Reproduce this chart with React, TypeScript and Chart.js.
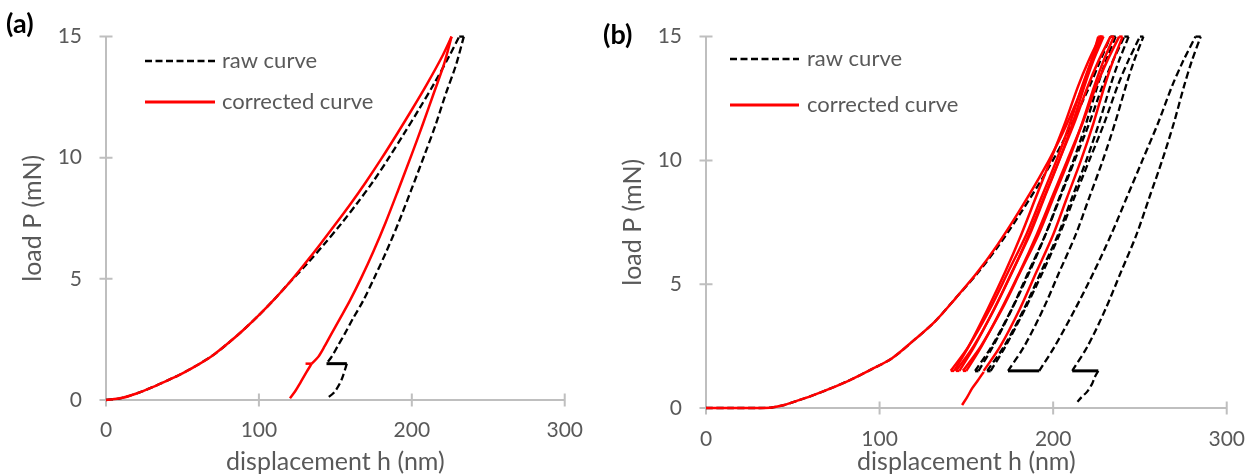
import { useEffect, useRef } from "react";
import { Chart, registerables } from "chart.js";

Chart.register(...registerables);

type Pt = [number, number];

const X_TICKS = [0, 100, 200, 300];
const Y_TICKS = [0, 5, 10, 15];
const X_TITLE = "displacement h (nm)";
const Y_TITLE = "load P (mN)";
const LEGEND_RAW = "raw curve";
const LEGEND_CORR = "corrected curve";
const PANEL_LABELS = ["(a)", "(b)"];

// ---------- panel (a) ----------
const aCorrLoad: Pt[] = [[0, 0], [10, 0.08], [20, 0.27], [30, 0.52], [40, 0.8], [50, 1.1], [60, 1.45], [70, 1.85], [80, 2.35], [90, 2.9], [100, 3.5], [110, 4.15], [120, 4.85], [130, 5.62], [140, 6.42], [150, 7.25], [160, 8.1], [170, 9.0], [180, 9.95], [190, 10.95], [200, 11.98], [210, 13.05], [220, 14.2], [226, 15]];
const aCorrUnload: Pt[] = [[226, 15], [221, 13.85], [214, 12.6], [207, 11.35], [200, 10.15], [191, 8.65], [183, 7.35], [175, 6.15], [167, 5.05], [159.5, 4.1], [153, 3.36], [147.5, 2.74], [143, 2.22], [138.8, 1.78], [134.5, 1.5]];
const aCorrHold: Pt[] = [[134.5, 1.5], [130.5, 1.5]];
const aCorrFinal: Pt[] = [[134.5, 1.5], [131.2, 1.16], [126.8, 0.68], [123.5, 0.34], [120.3, 0.07]];

const aRawLoad: Pt[] = [[0, 0], [10, 0.08], [20, 0.27], [30, 0.52], [40, 0.8], [50, 1.1], [60, 1.45], [70, 1.85], [80, 2.35], [90, 2.9], [100, 3.5], [110, 4.15], [120, 4.85], [131.5, 5.62], [142.5, 6.42], [153.5, 7.25], [164, 8.1], [174.5, 9.0], [184.5, 9.95], [194.5, 10.95], [204.5, 11.98], [214.5, 13.05], [224.5, 14.2], [231, 15]];
const aRawTop: Pt[] = [[231, 15], [234, 15]];
const aRawUnload: Pt[] = [[234, 15], [229, 13.85], [222, 12.6], [215.5, 11.35], [208.5, 10.15], [199.5, 8.65], [191.5, 7.35], [183.5, 6.15], [175.5, 5.05], [168.2, 4.1], [161.5, 3.36], [156.2, 2.74], [151.5, 2.22], [147.5, 1.78], [144.2, 1.5]];
const aRawHold: Pt[] = [[144.2, 1.5], [157.5, 1.5]];
const aRawFinal: Pt[] = [[157.5, 1.5], [155, 1.0], [152.9, 0.68], [149, 0.3], [144, 0.05]];

// ---------- panel (b) ----------
const bCorrLoad: Pt[] = [[0, 0], [15, 0], [30, 0], [38, 0.02], [45, 0.12], [52, 0.28], [60, 0.47], [70, 0.74], [83, 1.13], [95, 1.55], [107, 2.0], [120, 2.75], [132, 3.5], [144, 4.45], [156, 5.45], [168, 6.6], [180, 7.9], [192, 9.3], [202, 10.6], [210, 11.8], [217, 13.0], [222, 14.0], [226, 15]];
const bRawLoad: Pt[] = [[0, 0], [15, 0], [30, 0], [38, 0.02], [45, 0.12], [52, 0.28], [60, 0.47], [70, 0.74], [83, 1.13], [95, 1.55], [107, 2.0], [120, 2.75], [132, 3.5], [144, 4.45], [156.5, 5.45], [169, 6.6], [181.5, 7.9], [194, 9.3], [204.5, 10.6], [213, 11.8], [221, 13.0], [227, 14.0], [233, 15]];

// load levels (mN) at which the cycle branches below were read
const bCycleP = [1.5, 2.5, 4, 5.5, 7, 8.5, 10, 11.5, 13, 14, 15];
// corrected (red) branches: h (nm) at each level of bCycleP
const bCorrUnload1 = [141, 151.4, 163.6, 174.1, 184.5, 193.2, 201.9, 209.7, 216.7, 221.9, 228];
const bCorrReload2 = [143, 151.4, 162.3, 172.4, 181.6, 190, 198.4, 206.8, 214.4, 220.3, 227];
const bCorrUnload2 = [144, 154.2, 166.1, 176.3, 186.5, 195, 203.5, 211.2, 218, 223, 229];
const bCorrReload3 = [146, 154.7, 166, 176.5, 186, 194.7, 203.4, 212.1, 220, 226, 233];
const bCorrUnload3 = [148, 158.4, 170.6, 181.1, 191.5, 200.2, 208.9, 216.7, 223.7, 228.9, 235];
const bCorrReload4 = [150, 158.8, 170.2, 180.8, 190.5, 199.3, 208.1, 216.9, 224.8, 231, 238];
const bCorrUnload4 = [160, 169.6, 180.8, 190.4, 200, 208, 216, 223.2, 229.6, 234.4, 240];
const bCorrHoldTop: Pt[] = [[226, 228], [227, 229], [233, 235], [238, 240]];
const bCorrHoldBottom: Pt[] = [[141, 143], [144, 146], [148, 150]];
const bCorrFinal: Pt[] = [[160, 1.46], [156.5, 1.1], [153.3, 0.79], [150.3, 0.42], [147.5, 0.12]];

// raw (black) branches: h (nm) at each level of bCycleP
const bRawUnload1 = [155, 164.7, 176.1, 185.8, 195.5, 203.6, 211.7, 219, 225.5, 230.3, 236];
const bRawReload2 = [157, 165.4, 176.3, 186.4, 195.6, 204, 212.4, 220.8, 228.4, 234.3, 241];
const bRawUnload2 = [162, 171.8, 183.2, 193, 202.8, 210.9, 219.1, 226.4, 232.9, 237.8, 243.5];
const bRawReload3 = [164, 172.6, 183.8, 194.1, 203.6, 212.2, 220.8, 229.4, 237.1, 243.1, 250];
const bRawUnload3 = [174, 183.4, 194.3, 203.6, 213, 220.8, 228.6, 235.6, 241.9, 246.5, 252];
const bRawReload4 = [192, 201, 212.7, 223.5, 233.4, 242.4, 251.4, 260.4, 268.5, 274.8, 282];
const bRawUnload4 = [211, 219.9, 230.2, 239.1, 248, 255.4, 262.8, 269.5, 275.4, 279.8, 285];
const bRawHoldTop: Pt[] = [[233, 236], [241, 243.5], [250, 252], [282, 285]];
const bRawHoldBottom: Pt[] = [[155, 157], [162, 164], [174, 192], [211, 226]];
const bRawFinal: Pt[] = [[226, 1.5], [224, 1.25], [222.6, 1.0], [219.5, 0.65], [216.5, 0.45], [214, 0.25]];

// ---------- styling helpers ----------
const RED = "#ff0000";
const BLACK = "#000000";
const GRAY_AXIS = "#bfbfbf";
const GRAY_TEXT = "#595959";
const FONT = "Lato";

const toXY = (pts: Pt[]) => pts.map(([x, y]) => ({ x, y }));
const branch = (hs: number[]): Pt[] => hs.map((h, i) => [h, bCycleP[i]] as Pt);
const level = (pair: Pt, p: number): Pt[] => [[pair[0], p], [pair[1], p]];

const base = { showLine: true, pointRadius: 0, pointHoverRadius: 0, fill: false, clip: false as const };
const redDs = (pts: Pt[]) => ({ ...base, data: toXY(pts), borderColor: RED, borderWidth: 2.5, tension: 0.3 });
const dashDs = (pts: Pt[]) => ({ ...base, data: toXY(pts), borderColor: BLACK, borderWidth: 2.3, borderDash: [7, 3.5], tension: 0.3 });
const holdDs = (pts: Pt[]) => ({ ...base, data: toXY(pts), borderColor: BLACK, borderWidth: 3, tension: 0 });

const datasetsA = [
  redDs(aCorrLoad), redDs(aCorrUnload), redDs(aCorrHold), redDs(aCorrFinal),
  dashDs(aRawLoad), dashDs(aRawTop), dashDs(aRawUnload), holdDs(aRawHold), dashDs(aRawFinal),
];

const datasetsB = [
  redDs(bCorrLoad),
  ...[bCorrUnload1, bCorrReload2, bCorrUnload2, bCorrReload3, bCorrUnload3, bCorrReload4, bCorrUnload4].map((b) => redDs(branch(b))),
  ...bCorrHoldTop.map((p) => redDs(level(p, 15))),
  ...bCorrHoldBottom.map((p) => redDs(level(p, 1.5))),
  redDs(bCorrFinal),
  dashDs(bRawLoad),
  ...[bRawUnload1, bRawReload2, bRawUnload2, bRawReload3, bRawUnload3, bRawReload4, bRawUnload4].map((b) => dashDs(branch(b))),
  ...bRawHoldTop.map((p) => dashDs(level(p, 15))),
  ...bRawHoldBottom.map((p) => holdDs(level(p, 1.5))),
  dashDs(bRawFinal),
];

// ---------- plugins ----------
const crossTicks = {
  id: "crossTicks",
  beforeDatasetsDraw(chart: any) {
    const { ctx } = chart;
    const xs = chart.scales.x;
    const ys = chart.scales.y;
    const y0 = ys.getPixelForValue(0);
    const x0 = xs.getPixelForValue(0);
    ctx.save();
    ctx.strokeStyle = GRAY_AXIS;
    ctx.lineWidth = 2;
    ctx.beginPath();
    for (const v of X_TICKS) {
      const px = xs.getPixelForValue(v);
      ctx.moveTo(px, y0 - 6.5);
      ctx.lineTo(px, y0 + 6.5);
    }
    for (const v of Y_TICKS) {
      const py = ys.getPixelForValue(v);
      ctx.moveTo(x0 - 6.5, py);
      ctx.lineTo(x0 + 6.5, py);
    }
    ctx.stroke();
    ctx.restore();
  },
};

const deco = {
  id: "deco",
  afterDraw(chart: any, _args: any, o: any) {
    const { ctx } = chart;
    ctx.save();
    ctx.textAlign = "left";
    ctx.textBaseline = "middle";
    ctx.fillStyle = BLACK;
    ctx.font = `bold 27px ${FONT}`;
    ctx.fillText(o.label, o.labelX, o.labelY);

    ctx.strokeStyle = BLACK;
    ctx.lineWidth = 2.5;
    ctx.setLineDash([7, 3.5]);
    ctx.beginPath();
    ctx.moveTo(o.lx1, o.rawY);
    ctx.lineTo(o.lx2, o.rawY);
    ctx.stroke();
    ctx.setLineDash([]);
    ctx.strokeStyle = RED;
    ctx.lineWidth = 3;
    ctx.beginPath();
    ctx.moveTo(o.lx1, o.corrY);
    ctx.lineTo(o.lx2, o.corrY);
    ctx.stroke();

    ctx.fillStyle = GRAY_TEXT;
    ctx.font = `22px ${FONT}`;
    ctx.fillText(LEGEND_RAW, o.tx, o.rawY);
    ctx.fillText(LEGEND_CORR, o.tx, o.corrY);
    ctx.restore();
  },
};

type PanelCfg = {
  width: number;
  left: number;
  datasets: any[];
  padTop: number;
  padRight: number;
  xAxisH: number;
  tickPadX: number;
  deco: any;
};

function Panel({ cfg }: { cfg: PanelCfg }) {
  const ref = useRef<HTMLCanvasElement>(null);
  useEffect(() => {
    if (!ref.current) return;
    const chart = new Chart(ref.current, {
      type: "scatter",
      data: { datasets: cfg.datasets as any },
      plugins: [crossTicks, deco],
      options: {
        animation: false,
        responsive: false,
        devicePixelRatio: 1,
        events: [],
        layout: { padding: { left: 0, right: cfg.padRight, top: cfg.padTop, bottom: 0 } },
        plugins: {
          legend: { display: false },
          tooltip: { enabled: false },
          deco: cfg.deco,
        } as any,
        scales: {
          x: {
            type: "linear",
            min: 0,
            max: 300,
            afterBuildTicks: (s: any) => {
              s.ticks = X_TICKS.map((v) => ({ value: v }));
            },
            ticks: { padding: cfg.tickPadX, color: GRAY_TEXT, font: { family: FONT, size: 21 }, maxRotation: 0, autoSkip: false },
            grid: { display: false, drawTicks: false },
            border: { display: true, color: GRAY_AXIS, width: 2 },
            title: { display: true, text: X_TITLE, color: GRAY_TEXT, font: { family: FONT, size: 25, lineHeight: 1.0 }, padding: { top: 0, bottom: 0 } },
            afterFit: (s: any) => {
              s.height = cfg.xAxisH;
            },
          },
          y: {
            type: "linear",
            min: 0,
            max: 15,
            afterBuildTicks: (s: any) => {
              s.ticks = Y_TICKS.map((v) => ({ value: v }));
            },
            ticks: { padding: 24, color: GRAY_TEXT, font: { family: FONT, size: 21 }, autoSkip: false },
            grid: { display: false, drawTicks: false },
            border: { display: true, color: GRAY_AXIS, width: 2 },
            title: { display: true, text: Y_TITLE, color: GRAY_TEXT, font: { family: FONT, size: 25, lineHeight: 1.0 }, padding: { top: 20, bottom: 0 } },
            afterFit: (s: any) => {
              s.width = 106;
            },
          },
        },
      } as any,
    });
    return () => chart.destroy();
  }, [cfg]);
  return (
    <canvas
      ref={ref}
      width={cfg.width}
      height={474}
      style={{ position: "absolute", left: cfg.left, top: 0, width: cfg.width, height: 474 }}
    />
  );
}

const panelA: PanelCfg = {
  width: 601,
  left: 0,
  datasets: datasetsA,
  padTop: 35,
  padRight: 0,
  xAxisH: 74,
  tickPadX: 18,
  deco: { label: PANEL_LABELS[0], labelX: 6, labelY: 24, lx1: 145, lx2: 215, tx: 222, rawY: 61, corrY: 102 },
};

const panelB: PanelCfg = {
  width: 664,
  left: 600,
  datasets: datasetsB,
  padTop: 36,
  padRight: 0,
  xAxisH: 66,
  tickPadX: 19,
  deco: { label: PANEL_LABELS[1], labelX: 3, labelY: 35, lx1: 130, lx2: 199, tx: 207, rawY: 59, corrY: 105 },
};

export default function App() {
  return (
    <div style={{ position: "fixed", left: 0, top: 0, width: 1252, height: 474, background: "#ffffff", overflow: "hidden" }}>
      <Panel cfg={panelA} />
      <Panel cfg={panelB} />
    </div>
  );
}
